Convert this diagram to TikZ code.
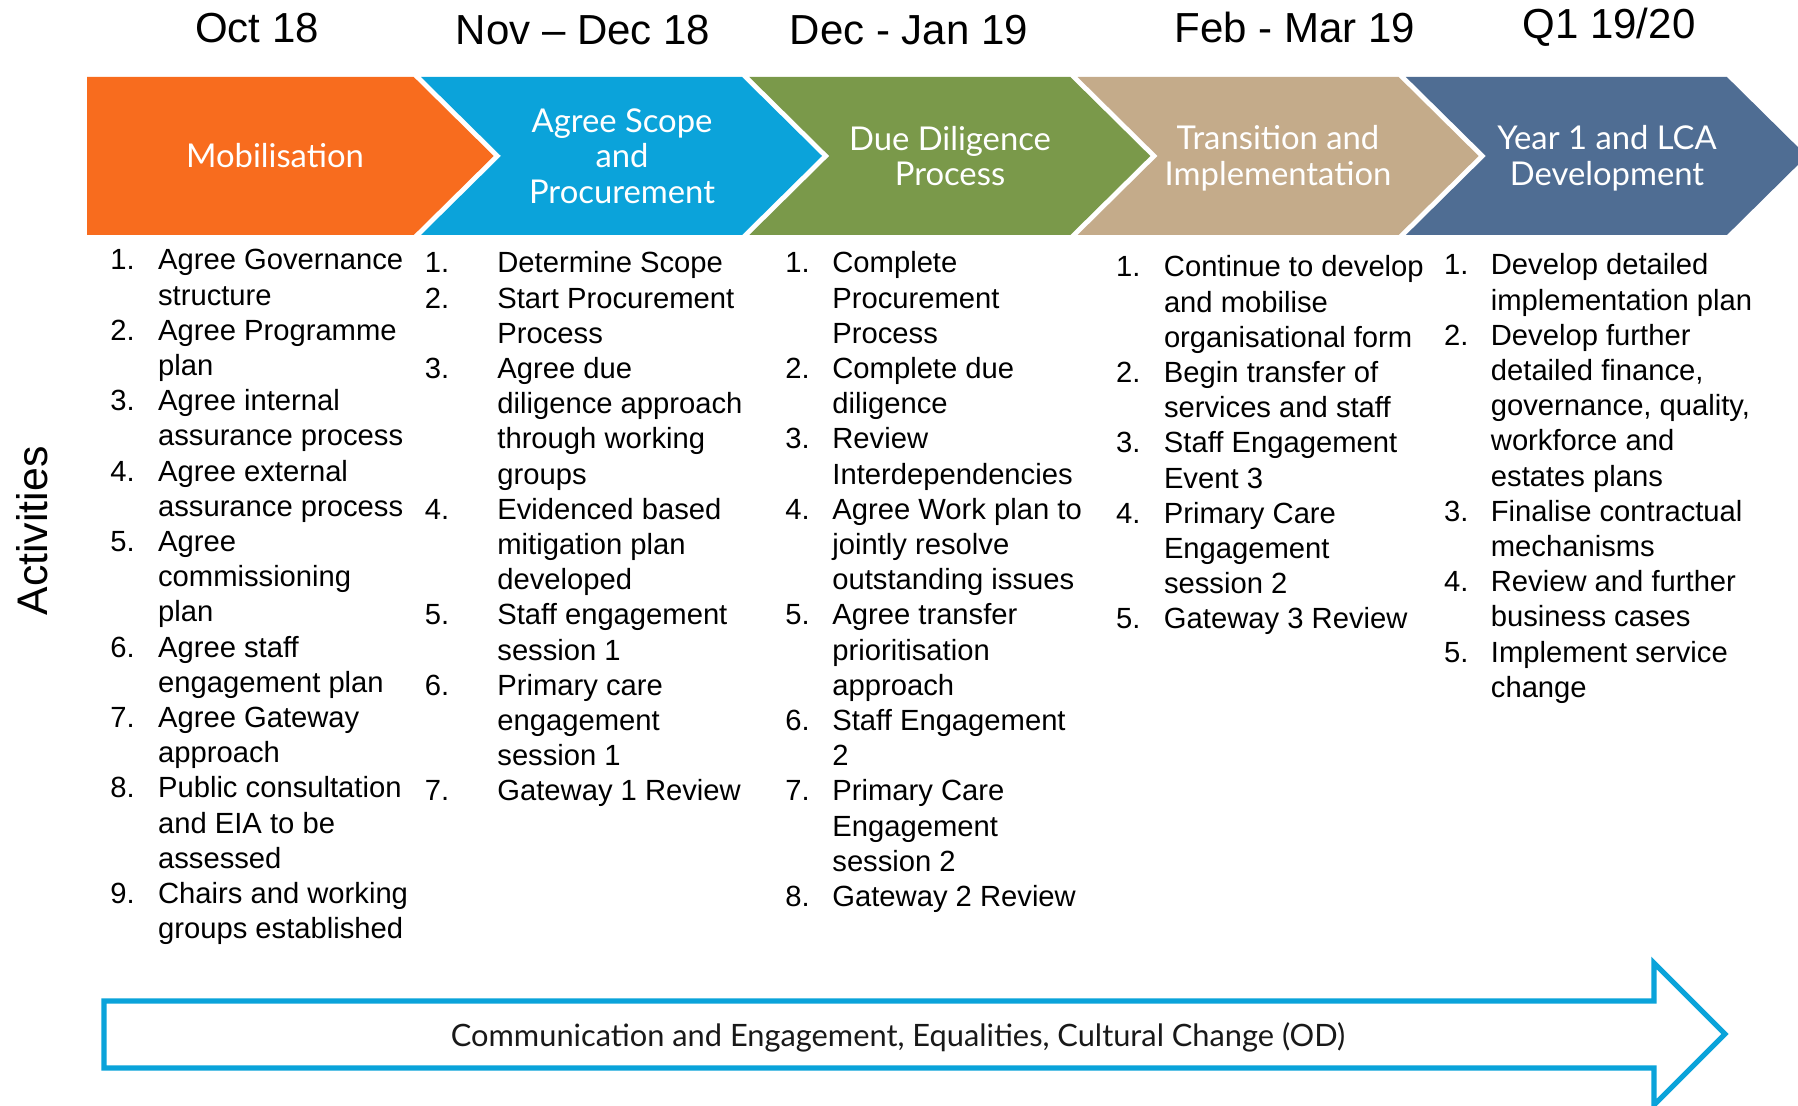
\documentclass[tikz,border=0pt]{standalone}
\usepackage{fontspec}
\setmainfont{Liberation Sans}
\newfontfamily\latofont{Lato}
\definecolor{corange}{HTML}{F86C1E}
\definecolor{cblue}{HTML}{0BA3DA}
\definecolor{cgreen}{HTML}{7A994A}
\definecolor{ctan}{HTML}{C4AB8A}
\definecolor{cnavy}{HTML}{4F6D93}
\definecolor{arrowblue}{HTML}{0AA3DA}
\newcommand{\acts}[2]{\begin{tabular}[t]{@{}p{#1}@{}l@{}}#2\end{tabular}}
\tikzset{
  datelabel/.style={anchor=base, inner sep=0pt, font=\fontsize{21}{25}\selectfont},
  chevtext/.style={align=center, inner sep=0pt, text=white, font=\latofont\fontsize{16.4}{17.85}\selectfont},
  listnode/.style={anchor=base west, inner sep=0pt, font=\fontsize{14.6}{17.6}\selectfont},
  sidelabel/.style={rotate=90, inner sep=0pt, font=\fontsize{21.4}{25}\selectfont},
  bandtext/.style={anchor=base, inner sep=0pt, font=\latofont\fontsize{15.4}{18}\selectfont, text=black!90}
}
\begin{document}
\begin{tikzpicture}[x=0.5pt,y=-0.5pt]
\useasboundingbox (0,0) rectangle (1798,1106);
\fill[white] (0,0) rectangle (1798,1106);
\clip (0,0) rectangle (1798,1106);

% dates
\node[datelabel] (d1) at (257,43) {Oct 18};
\node[datelabel] (d2) at (583,45) {Nov – Dec 18};
\node[datelabel] (d3) at (909,45) {Dec - Jan 19};
\node[datelabel] (d4) at (1295,43) {Feb - Mar 19};
\node[datelabel] (d5) at (1609,39) {Q1 19/20};

% chevrons
\fill[corange] (87,77) -- (413.7,77) -- (493.7,156) -- (413.7,235) -- (87,235) -- cycle;
\fill[cblue] (421,77) -- (742,77) -- (822,156) -- (742,235) -- (421,235) -- (501,156) -- cycle;
\fill[cgreen] (749.3,77) -- (1070.3,77) -- (1150.3,156) -- (1070.3,235) -- (749.3,235) -- (829.3,156) -- cycle;
\fill[ctan] (1077.6,77) -- (1398.6,77) -- (1478.6,156) -- (1398.6,235) -- (1077.6,235) -- (1157.6,156) -- cycle;
\fill[cnavy] (1405.9,77) -- (1726.9,77) -- (1806.9,156) -- (1726.9,235) -- (1405.9,235) -- (1485.9,156) -- cycle;

\node[chevtext] (c1) at (275,156) {Mobilisation};
\node[chevtext] (c2) at (622,156) {Agree Scope\\and\\Procurement};
\node[chevtext] (c3) at (950,156) {Due Diligence\\Process};
\node[chevtext] (c4) at (1278,158) {Transition and\\Implementation};
\node[chevtext] (c5) at (1607,158) {Year 1 and LCA\\Development};

% side label
\node[sidelabel] (act) at (32,531) {Activities};

% activity lists
\node[listnode] (l1) at (110,270) {\acts{23.85pt}{%
1. & Agree Governance\\ & structure\\
2. & Agree Programme\\ & plan\\
3. & Agree internal\\ & assurance process\\
4. & Agree external\\ & assurance process\\
5. & Agree\\ & commissioning\\ & plan\\
6. & Agree staff\\ & engagement plan\\
7. & Agree Gateway\\ & approach\\
8. & Public consultation\\ & and EIA to be\\ & assessed\\
9. & Chairs and working\\ & groups established}};

\node[listnode] (l2) at (424.5,273) {\acts{36.25pt}{%
1. & Determine Scope\\
2. & Start Procurement\\ & Process\\
3. & Agree due\\ & diligence approach\\ & through working\\ & groups\\
4. & Evidenced based\\ & mitigation plan\\ & developed\\
5. & Staff engagement\\ & session 1\\
6. & Primary care\\ & engagement\\ & session 1\\
7. & Gateway 1 Review}};

\node[listnode] (l3) at (785,273) {\acts{23.5pt}{%
1. & Complete\\ & Procurement\\ & Process\\
2. & Complete due\\ & diligence\\
3. & Review\\ & Interdependencies\\
4. & Agree Work plan to\\ & jointly resolve\\ & outstanding issues\\
5. & Agree transfer\\ & prioritisation\\ & approach\\
6. & Staff Engagement\\ & 2\\
7. & Primary Care\\ & Engagement\\ & session 2\\
8. & Gateway 2 Review}};

\node[listnode] (l4) at (1115.6,277) {\acts{24pt}{%
1. & Continue to develop\\ & and mobilise\\ & organisational form\\
2. & Begin transfer of\\ & services and staff\\
3. & Staff Engagement\\ & Event 3\\
4. & Primary Care\\ & Engagement\\ & session 2\\
5. & Gateway 3 Review}};

\node[listnode] (l5) at (1443.7,275) {\acts{23.4pt}{%
1. & Develop detailed\\ & implementation plan\\
2. & Develop further\\ & detailed finance,\\ & governance, quality,\\ & workforce and\\ & estates plans\\
3. & Finalise contractual\\ & mechanisms\\
4. & Review and further\\ & business cases\\
5. & Implement service\\ & change}};

% bottom band arrow
\draw[arrowblue, line width=2.6pt, line join=miter]
  (104,1001) -- (1654,1001) -- (1654,963) -- (1725,1034) -- (1654,1105) -- (1654,1068) -- (104,1068) -- cycle;
\node[bandtext] (band) at (898,1046) {Communication and Engagement, Equalities, Cultural Change (OD)};
\end{tikzpicture}
\end{document}
